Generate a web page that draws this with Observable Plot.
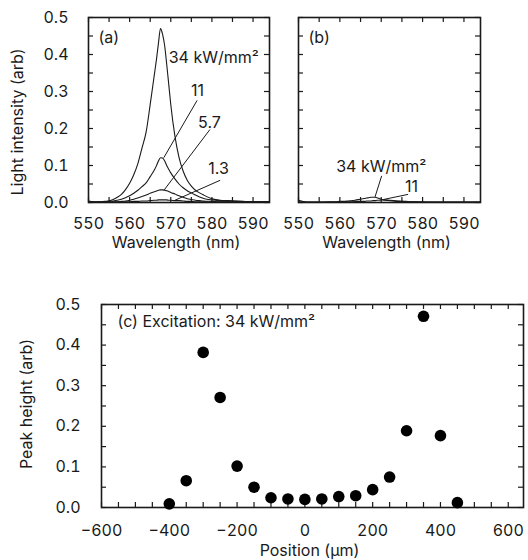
<!DOCTYPE html>
<html><head><meta charset="utf-8">
<script src="https://cdn.jsdelivr.net/npm/d3@7"></script>
<script src="https://cdn.jsdelivr.net/npm/@observablehq/plot@0.6"></script>
<style>
body{margin:0;background:#fff;}
#wrap{position:relative;width:528px;height:560px;overflow:hidden;}
#wrap svg{position:absolute;overflow:visible;}
</style></head><body><div id="wrap"></div>
<script>
// ---- Panel (a)/(b) spectra: shared wavelength grid (nm)
const wavelength = [550,552,554,556,557,558,559,560,561,562,563,564,565,566,566.5,567,567.5,568,568.5,569,569.5,570,571,572,573,574,575,576,577,578,580,582,584,586,590,594];
// panel (a) intensities
const a34  = [0.004,0.001,0.003,0.008,0.014,0.022,0.035,0.052,0.075,0.105,0.147,0.19,0.265,0.345,0.385,0.43,0.47,0.455,0.425,0.375,0.32,0.265,0.18,0.122,0.085,0.06,0.044,0.033,0.026,0.02,0.01,0.006,0.005,0.004,0.002,0.002];
const a11  = [0.002,0.001,0.002,0.004,0.006,0.009,0.013,0.018,0.025,0.033,0.043,0.053,0.07,0.088,0.099,0.112,0.121,0.12,0.113,0.1,0.09,0.08,0.064,0.05,0.04,0.032,0.026,0.02,0.015,0.011,0.007,0.005,0.004,0.003,0.002,0.002];
const a57  = [0.001,0.001,0.001,0.002,0.002,0.003,0.004,0.006,0.009,0.012,0.016,0.02,0.025,0.029,0.031,0.033,0.034,0.034,0.033,0.032,0.03,0.027,0.023,0.018,0.014,0.01,0.008,0.006,0.005,0.004,0.003,0.002,0.002,0.001,0.001,0.001];
const a13  = [0.001,0.001,0.001,0.001,0.001,0.002,0.002,0.002,0.003,0.003,0.004,0.004,0.005,0.006,0.006,0.007,0.007,0.007,0.007,0.007,0.006,0.006,0.005,0.005,0.004,0.003,0.003,0.002,0.002,0.002,0.001,0.001,0.001,0.001,0.001,0.001];
// panel (b) intensities
const b34  = [0.006,0.001,0.001,0.001,0.002,0.002,0.002,0.003,0.003,0.004,0.005,0.007,0.009,0.011,0.012,0.013,0.014,0.014,0.014,0.013,0.011,0.009,0.006,0.005,0.004,0.003,0.003,0.002,0.002,0.002,0.001,0.001,0.001,0.001,0.001,0.001];
const b11  = [0.002,0.001,0.001,0.001,0.001,0.001,0.001,0.001,0.002,0.002,0.002,0.003,0.003,0.003,0.004,0.004,0.004,0.005,0.005,0.006,0.006,0.007,0.007,0.006,0.005,0.004,0.003,0.003,0.002,0.002,0.002,0.001,0.001,0.001,0.001,0.001];

// annotation labels (data coords) and leader lines
const labelsA = [
  {text:"34 kW/mm²", nm:569.5, val:0.392, anchor:"start"},
  {text:"11", nm:576.5, val:0.303, anchor:"middle"},
  {text:"5.7", nm:579.4, val:0.216, anchor:"middle"},
  {text:"1.3", nm:581.6, val:0.092, anchor:"middle"}
];
const leadersA = [
  {nm1:576.4, v1:0.276, nm2:568.3, v2:0.121},
  {nm1:579.5, v1:0.197, nm2:568.4, v2:0.034},
  {nm1:582.0, v1:0.060, nm2:571.0, v2:0.006}
];
const labelsB = [
  {text:"34 kW/mm²", nm:570.0, val:0.097, anchor:"middle"},
  {text:"11", nm:577.3, val:0.042, anchor:"middle"}
];
const leadersB = [
  {nm1:570.1, v1:0.072, nm2:568.5, v2:0.015},
  {nm1:576.5, v1:0.022, nm2:570.5, v2:0.008}
];

// ---- Panel (c) peak heights
const position = [-400,-350,-300,-250,-200,-150,-100,-50,0,50,100,150,200,250,300,350,400,450];
const peakHeight = [0.009,0.066,0.382,0.271,0.102,0.05,0.024,0.021,0.02,0.021,0.027,0.029,0.044,0.075,0.189,0.471,0.177,0.012];

// ticks
const xLabelsAB = [550,560,570,580,590];
const xTicksAB = [550,555,560,565,570,575,580,585,590];
const yLabels = [0,0.1,0.2,0.3,0.4,0.5];
const yTicks = [0,0.05,0.1,0.15,0.2,0.25,0.3,0.35,0.4,0.45,0.5];
const xLabelsC = [-600,-400,-200,0,200,400,600];
const xTicksC = [-600,-550,-500,-450,-400,-350,-300,-250,-200,-150,-100,-50,0,50,100,150,200,250,300,350,400,450,500,550,600];

const FONT = "Inter, 'Liberation Sans', Arial, sans-serif";
const FS = 16;
const INK = "#1a1a1a";

function innerTicks(xt, yt, W, H) {
  const o = {stroke: INK, strokeWidth: 1.2};
  return [
    Plot.tickX(xt, {x: d => d, insetTop: H - 5, ...o}),
    Plot.tickX(xt, {x: d => d, insetBottom: H - 5, ...o}),
    Plot.tickY(yt, {y: d => d, insetRight: W - 5, ...o}),
    Plot.tickY(yt, {y: d => d, insetLeft: W - 5, ...o})
  ];
}
function series(arr) { return wavelength.map((w, i) => ({w, v: arr[i]})); }
function curves(list) {
  return list.map(arr => Plot.line(series(arr), {x: "w", y: "v", curve: "monotone-x", stroke: INK, strokeWidth: 1.1}));
}
function labelMarks(labels) {
  return ["start", "middle", "end"].map(a =>
    Plot.text(labels.filter(d => d.anchor === a), {x: "nm", y: "val", text: "text", textAnchor: a, lineAnchor: "middle", fontSize: FS, fill: INK}));
}

const wrap = document.getElementById("wrap");
function place(svg, left, top) { svg.style.left = left + "px"; svg.style.top = top + "px"; wrap.appendChild(svg); }

function spectrumPanel({width, marginLeft, marginRight, tag, lines, labels, leaders, ylabel}) {
  const height = 260, marginTop = 17, marginBottom = 58;
  const W = width - marginLeft - marginRight, H = height - marginTop - marginBottom;
  const marks = [
    ...curves(lines),
    Plot.link(leaders, {x1: "nm1", y1: "v1", x2: "nm2", y2: "v2", stroke: INK, strokeWidth: 1}),
    ...labelMarks(labels),
    ...innerTicks(xTicksAB, yTicks, W, H),
    Plot.frame({stroke: INK, strokeWidth: 1.6}),
    Plot.axisX(xLabelsAB, {tickSize: 0, tickPadding: 15, fontSize: FS, label: null, fill: INK}),
    Plot.text([tag], {text: d => d, frameAnchor: "top-left", dx: 10, dy: 20, lineAnchor: "middle", textAnchor: "start", fontSize: FS, fill: INK}),
    Plot.text(["Wavelength (nm)"], {text: d => d, frameAnchor: "bottom", dx: -3, dy: 40, lineAnchor: "middle", textAnchor: "middle", fontSize: FS, fill: INK})
  ];
  if (ylabel) {
    marks.push(Plot.axisY(yLabels, {tickSize: 0, tickPadding: 20, tickFormat: d3.format(".1f"), fontSize: FS, label: null, fill: INK}));
    marks.push(Plot.text([ylabel], {text: d => d, frameAnchor: "left", dx: -71, dy: 12, rotate: -90, lineAnchor: "middle", textAnchor: "middle", fontSize: FS, fill: INK}));
  }
  return Plot.plot({
    width, height, marginLeft, marginRight, marginTop, marginBottom,
    style: {fontFamily: FONT, fontSize: FS + "px", background: "transparent", overflow: "visible"},
    x: {domain: [550, 594]},
    y: {domain: [0, 0.5], axis: ylabel ? undefined : null},
    marks
  });
}

place(spectrumPanel({width: 280, marginLeft: 88, marginRight: 11, tag: "(a)", lines: [a34, a11, a57, a13], labels: labelsA, leaders: leadersA, ylabel: "Light intensity (arb)"}), 0, 0);
place(spectrumPanel({width: 248, marginLeft: 18, marginRight: 48, tag: "(b)", lines: [b34, b11], labels: labelsB, leaders: leadersB, ylabel: null}), 280, 0);

// panel (c)
(function () {
  const width = 528, height = 315, marginLeft = 101, marginRight = 5, marginTop = 59, marginBottom = 53;
  const W = width - marginLeft - marginRight, H = height - marginTop - marginBottom;
  const pts = position.map((p, i) => ({p, h: peakHeight[i]}));
  const svg = Plot.plot({
    width, height, marginLeft, marginRight, marginTop, marginBottom,
    style: {fontFamily: FONT, fontSize: FS + "px", background: "transparent", overflow: "visible"},
    x: {domain: [-600, 645]},
    y: {domain: [0, 0.5]},
    marks: [
      ...innerTicks(xTicksC, yTicks, W, H),
      Plot.frame({stroke: INK, strokeWidth: 1.6}),
      Plot.dot(pts, {x: "p", y: "h", r: 5.8, fill: "#000", stroke: "none"}),
      Plot.axisX(xLabelsC, {tickSize: 0, tickPadding: 17, fontSize: FS, label: null, fill: INK}),
      Plot.axisY(yLabels, {tickSize: 0, tickPadding: 21, tickFormat: d3.format(".1f"), fontSize: FS, label: null, fill: INK}),
      Plot.text(["(c) Excitation: 34 kW/mm²"], {text: d => d, frameAnchor: "top-left", dx: 16, dy: 17.5, lineAnchor: "middle", textAnchor: "start", fontSize: FS, fill: INK}),
      Plot.text(["Position (µm)"], {text: d => d, frameAnchor: "bottom", dx: -3, dy: 43, lineAnchor: "middle", textAnchor: "middle", fontSize: FS, fill: INK}),
      Plot.text(["Peak height (arb)"], {text: d => d, frameAnchor: "left", dx: -75, dy: -2, rotate: -90, lineAnchor: "middle", textAnchor: "middle", fontSize: FS, fill: INK})
    ]
  });
  place(svg, 0, 245);
})();
</script></body></html>
